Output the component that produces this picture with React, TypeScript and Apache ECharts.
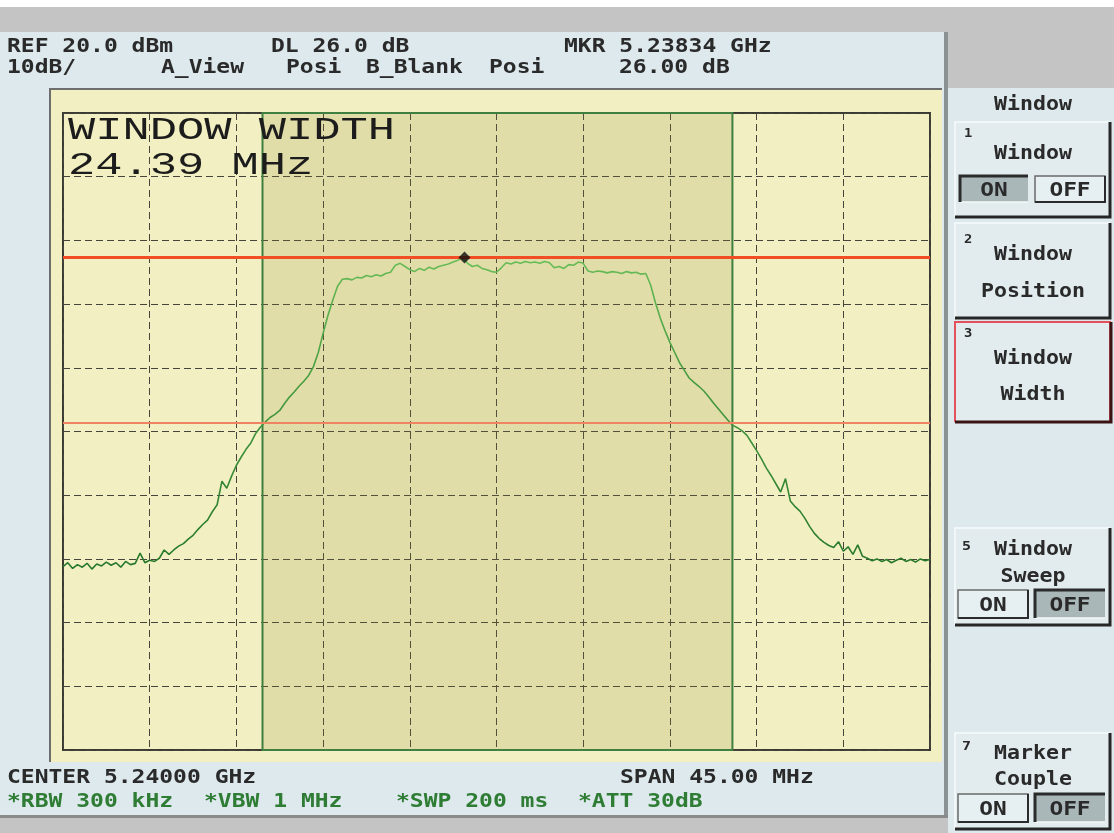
import React, { useEffect, useRef } from "react";
import * as echarts from "echarts";

// ---- instrument settings ----
const CENTER_MHZ = 5240.0;
const SPAN_MHZ = 45.0;
const REF_LEVEL_DBM = 20.0;
const DB_PER_DIV = 10;
const V_DIVS = 10;
const H_DIVS = 10;
const SWEEP_STEP_MHZ = 0.25;

// ---- trace, dBm, one value every 0.25 MHz from 5217.50 to 5262.50 MHz ----
const TRACE_LEVELS_DBM = [
  -51.2, -50.6, -51.5, -50.9, -51.3, -50.7, -51.6, -50.8, -51.1, -50.5,
  -51.0, -50.6, -51.3, -50.4, -50.9, -50.7, -49.1, -50.6, -50.2, -50.4,
  -49.9, -48.6, -49.3, -48.6, -48.0, -47.6, -46.9, -46.3, -45.4, -44.6,
  -43.9, -42.6, -41.5, -37.8, -38.9, -37.0, -35.3, -34.0, -32.8, -31.8,
  -30.3, -29.3, -28.5, -27.8, -27.3, -26.7, -25.6, -24.6, -23.8, -22.9,
  -22.1, -21.2, -19.8, -17.6, -14.6, -11.8, -9.4, -7.2, -6.1, -6.0,
  -6.2, -5.8, -5.9, -5.5, -5.7, -5.4, -5.6, -5.2, -5.0, -3.9,
  -3.6, -4.1, -4.6, -4.9, -4.4, -4.7, -4.2, -4.5, -4.1, -3.9,
  -3.7, -3.4, -3.1, -2.7, -3.6, -4.1, -3.9, -4.4, -4.6, -4.9,
  -5.0, -4.3, -3.5, -3.7, -3.4, -3.6, -3.3, -3.5, -3.4, -3.6,
  -3.3, -3.5, -4.3, -4.1, -4.4, -3.8, -3.9, -3.4, -3.6, -4.8,
  -5.0, -4.8, -4.9, -5.1, -4.9, -5.0, -5.2, -4.9, -5.1, -5.0,
  -5.3, -5.2, -7.0, -9.8, -12.2, -14.2, -16.0, -17.6, -19.2, -20.4,
  -21.6, -22.3, -22.9, -23.6, -24.5, -25.5, -26.4, -27.3, -28.2, -29.0,
  -29.4, -29.9, -30.6, -31.8, -33.0, -34.3, -35.7, -36.9, -38.2, -39.5,
  -37.4, -40.9, -41.8, -42.5, -43.6, -44.9, -46.0, -46.8, -47.4, -47.9,
  -48.2, -47.3, -48.8, -48.1, -49.3, -47.8, -49.6, -49.9, -50.3, -50.0,
  -50.4, -50.1, -50.6, -50.2, -49.9, -50.4, -50.1, -50.5, -50.0, -50.3,
  -50.1,
];

const MARKER_FREQ_GHZ = 5.23834;
const MARKER_LEVEL_DBM = -2.7;
const DL_DB = 26.0;
const WINDOW_CENTER_MHZ = 5240.05;
const WINDOW_WIDTH_MHZ = 24.39;

// ---- texts ----
const HEADER_TOP = ["REF 20.0 dBm", "DL 26.0 dB", "MKR 5.23834 GHz"];
const HEADER_SECOND = ["10dB/", "A_View", "Posi", "B_Blank", "Posi", "26.00 dB"];
const FOOTER_TOP = ["CENTER 5.24000 GHz", "SPAN 45.00 MHz"];
const FOOTER_SECOND = ["*RBW 300 kHz", "*VBW 1 MHz", "*SWP 200 ms", "*ATT 30dB"];
const OVERLAY_TEXT = ["WINDOW WIDTH", "24.39 MHz"];
const MENU_TITLE = "Window";

const MONO = '"DejaVu Sans Mono", monospace';
const PANEL = "#dde9ed";
const KEY_BG = "#e2ecef";

function txt(text: string, x: number, y: number, o: any = {}) {
  return {
    type: "text",
    x,
    y,
    scaleX: o.sx ?? 1.15,
    z: 20,
    silent: true,
    style: {
      text,
      fill: o.fill ?? "#2a2a2a",
      fontSize: o.size ?? 20,
      fontFamily: o.family ?? MONO,
      fontWeight: o.weight ?? "bold",
      align: o.align ?? "left",
      verticalAlign: "middle",
    },
  };
}

function rect(x: number, y: number, w: number, h: number, style: any, z = -10) {
  return { type: "rect", z, silent: true, shape: { x, y, width: w, height: h }, style };
}

function poly(points: number[][], stroke: string, lineWidth: number, z = -8) {
  return { type: "polyline", z, silent: true, shape: { points }, style: { stroke, lineWidth, fill: "none" } };
}

function keyFrame(x1: number, y1: number, x2: number, y2: number, accent = false) {
  const els: any[] = [rect(x1, y1, x2 - x1, y2 - y1, { fill: KEY_BG }, -9)];
  if (accent) {
    els.push(poly([[x1, y2], [x1, y1], [x2, y1], [x2, y2]], "#e4505c", 2));
    els.push(poly([[x2 + 1, y1], [x2 + 1, y2], [x1, y2]], "#3a1414", 3, -7));
  } else {
    els.push(poly([[x1, y2], [x1, y1], [x2, y1]], "#f7fbfc", 1.5));
    els.push(poly([[x2, y1], [x2, y2], [x1, y2]], "#262626", 3));
  }
  return els;
}

function button(x1: number, y1: number, x2: number, y2: number, pressed: boolean, label: string) {
  const els: any[] = [];
  if (pressed) {
    els.push(rect(x1, y1, x2 - x1, y2 - y1, { fill: "#a9b7b8" }, -6));
    els.push(poly([[x2, y2], [x1, y2]], "#f4f8f8", 1.5, -5));
    els.push(poly([[x1, y2], [x1, y1], [x2, y1]], "#2b2b2b", 3, -5));
  } else {
    els.push(rect(x1, y1, x2 - x1, y2 - y1, { fill: "#e6eff1", stroke: "#6a6a6a", lineWidth: 1.5 }, -6));
    els.push(poly([[x2, y1], [x2, y2], [x1, y2]], "#2b2b2b", 2, -5));
  }
  els.push(txt(label, (x1 + x2) / 2, (y1 + y2) / 2 + 1, { align: "center", sx: 1.2, size: 19 }));
  return els;
}

export default function App() {
  const ref = useRef<HTMLDivElement>(null);

  useEffect(() => {
    const el = ref.current;
    if (!el) return;
    const chart = echarts.init(el, undefined, { renderer: "svg" });

    const half = SPAN_MHZ / 2;
    const startMHz = CENTER_MHZ - half;
    const traceData = TRACE_LEVELS_DBM.map((v, i) => [startMHz + i * SWEEP_STEP_MHZ - CENTER_MHZ, v]);
    const bottomDbm = REF_LEVEL_DBM - DB_PER_DIV * V_DIVS;
    const mkrOffset = MARKER_FREQ_GHZ * 1000 - CENTER_MHZ;
    const winL = WINDOW_CENTER_MHZ - WINDOW_WIDTH_MHZ / 2 - CENTER_MHZ;
    const winR = WINDOW_CENTER_MHZ + WINDOW_WIDTH_MHZ / 2 - CENTER_MHZ;

    const hx1 = [7, 271, 564];
    const hx2 = [7, 161, 286, 366, 489, 619];
    const fx1 = [7, 620];
    const fx2 = [7, 204, 396, 578];

    const graphics: any[] = [
      // page frame
      rect(0, 0, 1114, 833, { fill: "#c4c4c4" }, -20),
      rect(0, 0, 1114, 7, { fill: "#ffffff" }, -19),
      rect(0, 32, 944, 783, { fill: PANEL }, -19),
      rect(944, 32, 4, 786, { fill: "#8a9294" }, -18),
      rect(0, 815, 948, 3, { fill: "#8a8a8a" }, -18),
      rect(948, 88, 166, 745, { fill: PANEL }, -19),
      // yellow display panel
      rect(49, 88, 893, 674, { fill: "#f2f0c3" }, -15),
      poly([[50, 762], [50, 89], [942, 89]], "#6e6e6e", 2, -14),
    ];

    HEADER_TOP.forEach((t, i) => graphics.push(txt(t, hx1[i], 45)));
    HEADER_SECOND.forEach((t, i) => graphics.push(txt(t, hx2[i], 66)));
    FOOTER_TOP.forEach((t, i) => graphics.push(txt(t, fx1[i], 776)));
    FOOTER_SECOND.forEach((t, i) => graphics.push(txt(t, fx2[i], 800, { fill: "#2f7d34" })));

    const overlay = { family: '"Liberation Mono", monospace', weight: "normal", size: 32, sx: 1.42, fill: "#1c1c1c" };
    graphics.push(txt(OVERLAY_TEXT[0], 68, 130, overlay));
    graphics.push(txt(OVERLAY_TEXT[1], 68, 165, overlay));

    // soft keys
    graphics.push(txt(MENU_TITLE, 1033, 103, { align: "center", sx: 1.08 }));

    graphics.push(...keyFrame(955, 122, 1110, 217));
    graphics.push(txt("1", 964, 133, { size: 12 }));
    graphics.push(txt("Window", 1033, 152, { align: "center", sx: 1.08 }));
    graphics.push(...button(960, 176, 1028, 202, true, "ON"));
    graphics.push(...button(1035, 176, 1105, 202, false, "OFF"));

    graphics.push(...keyFrame(955, 223, 1110, 318));
    graphics.push(txt("2", 964, 239, { size: 12 }));
    graphics.push(txt("Window", 1033, 253, { align: "center", sx: 1.08 }));
    graphics.push(txt("Position", 1033, 290, { align: "center", sx: 1.08 }));

    graphics.push(...keyFrame(955, 322, 1110, 422, true));
    graphics.push(txt("3", 964, 333, { size: 12 }));
    graphics.push(txt("Window", 1033, 357, { align: "center", sx: 1.08 }));
    graphics.push(txt("Width", 1033, 393, { align: "center", sx: 1.08 }));

    graphics.push(...keyFrame(955, 528, 1110, 625));
    graphics.push(txt("5", 962, 545, { size: 13 }));
    graphics.push(txt("Window", 1033, 548, { align: "center", sx: 1.08 }));
    graphics.push(txt("Sweep", 1033, 575, { align: "center", sx: 1.08 }));
    graphics.push(...button(958, 590, 1028, 618, false, "ON"));
    graphics.push(...button(1035, 590, 1105, 618, true, "OFF"));

    graphics.push(...keyFrame(955, 733, 1110, 829));
    graphics.push(txt("7", 962, 745, { size: 13 }));
    graphics.push(txt("Marker", 1033, 752, { align: "center", sx: 1.08 }));
    graphics.push(txt("Couple", 1033, 778, { align: "center", sx: 1.08 }));
    graphics.push(...button(958, 794, 1028, 822, false, "ON"));
    graphics.push(...button(1035, 794, 1105, 822, true, "OFF"));

    const split = { show: true, lineStyle: { color: "#45453c", width: 1, type: [7, 4] } };

    chart.setOption({
      animation: false,
      graphic: { elements: graphics },
      grid: {
        left: 63,
        top: 113,
        width: 867,
        height: 637,
        show: true,
        backgroundColor: "transparent",
        borderColor: "#3b3b33",
        borderWidth: 2,
      },
      xAxis: {
        type: "value",
        min: -half,
        max: half,
        interval: SPAN_MHZ / H_DIVS,
        axisLine: { show: false },
        axisTick: { show: false },
        axisLabel: { show: false },
        splitLine: split,
      },
      yAxis: {
        type: "value",
        min: bottomDbm,
        max: REF_LEVEL_DBM,
        interval: DB_PER_DIV,
        axisLine: { show: false },
        axisTick: { show: false },
        axisLabel: { show: false },
        splitLine: split,
      },
      series: [
        {
          type: "line",
          name: "trace",
          data: traceData,
          showSymbol: false,
          symbol: "none",
          z: 3,
          lineStyle: {
            width: 1.6,
            color: new echarts.graphic.LinearGradient(0, 0, 0, 1, [
              { offset: 0, color: "#68bd58" },
              { offset: 0.35, color: "#4a9f42" },
              { offset: 1, color: "#27772a" },
            ]),
          },
          markArea: {
            silent: true,
            itemStyle: {
              color: "rgba(150,140,50,0.18)",
              borderColor: "#3f7f3f",
              borderWidth: 2,
            },
            data: [[{ xAxis: winL }, { xAxis: winR }]],
          },
          markLine: {
            silent: true,
            symbol: ["none", "none"],
            label: { show: false },
            data: [
              { yAxis: MARKER_LEVEL_DBM, lineStyle: { color: "#f14e25", width: 3, type: "solid" } },
              { yAxis: MARKER_LEVEL_DBM - DL_DB, lineStyle: { color: "#f08462", width: 2, type: "solid" } },
            ],
          },
        },
        {
          type: "scatter",
          name: "marker",
          data: [[mkrOffset, MARKER_LEVEL_DBM]],
          symbol: "diamond",
          symbolSize: 12,
          z: 6,
          itemStyle: { color: "#0d0d0d" },
        },
      ],
    });

    return () => chart.dispose();
  }, []);

  return (
    <div
      ref={ref}
      style={{ position: "fixed", left: 0, top: 0, width: 1114, height: 833 }}
    />
  );
}
